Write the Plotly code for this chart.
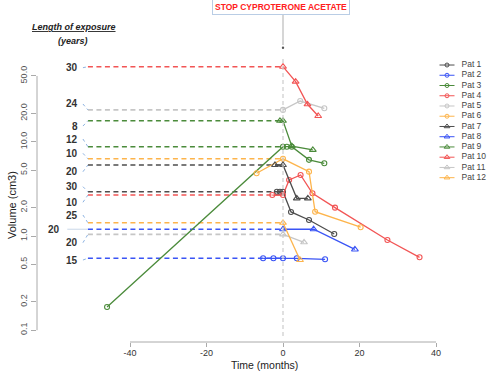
import math
import plotly.graph_objects as go

# ---------------- data ----------------
patients = ["Pat 1", "Pat 2", "Pat 3", "Pat 4", "Pat 5", "Pat 6",
            "Pat 7", "Pat 8", "Pat 9", "Pat 10", "Pat 11", "Pat 12"]

pat1_t = [-1.6, -0.8, 0, 2.1, 6.8, 13.4]
pat1_v = [2.95, 2.95, 2.95, 1.8, 1.48, 1.05]
pat2_t = [-5.2, -2.5, 0, 3.6, 11.0]
pat2_v = [0.58, 0.58, 0.58, 0.58, 0.566]
pat3_t = [-46.0, 0, 1.0, 2.3, 6.8, 10.8]
pat3_v = [0.176, 8.87, 8.87, 8.87, 6.43, 5.91]
pat4_t = [-2.8, 0, 1.6, 4.6, 7.7, 13.6, 27.3, 35.7]
pat4_v = [2.72, 2.72, 3.93, 4.44, 2.84, 2.0, 0.907, 0.594]
pat5_t = [0, 4.5, 10.8]
pat5_v = [21.8, 27.1, 22.7]
pat6_t = [-6.9, 0, 6.8, 8.4, 20.3]
pat6_v = [4.63, 6.6, 4.82, 1.81, 1.24]
pat7_t = [-2.1, 0, 3.6, 6.5]
pat7_v = [5.67, 5.67, 2.51, 2.51]
pat8_t = [0, 8.0, 18.8]
pat8_v = [1.18, 1.18, 0.72]
pat9_t = [-0.8, 0, 2.3, 7.8]
pat9_v = [16.7, 16.7, 9.0, 8.2]
pat10_t = [0, 3.3, 6.4, 9.2]
pat10_v = [62.7, 43.5, 25.0, 18.8]
pat11_t = [0, 5.5]
pat11_v = [1.04, 0.857]
pat12_t = [0, 4.45]
pat12_v = [1.38, 0.556]

times = [pat1_t, pat2_t, pat3_t, pat4_t, pat5_t, pat6_t,
         pat7_t, pat8_t, pat9_t, pat10_t, pat11_t, pat12_t]
values = [pat1_v, pat2_v, pat3_v, pat4_v, pat5_v, pat6_v,
          pat7_v, pat8_v, pat9_v, pat10_v, pat11_v, pat12_v]

# length of exposure (years) per patient
exposure_years = ["30", "15", "12", "10", "24", "10", "20", "20", "8", "30", "20", "25"]

y_tickvals = [0.1, 0.2, 0.5, 1, 2, 5, 10, 20, 50]
y_ticktext = ["0.1", "0.2", "0.5", "1.0", "2.0", "5.0", "10.0", "20.0", "50.0"]
x_tickvals = [-40, -20, 0, 20, 40]
x_ticktext = ["-40", "-20", "0", "20", "40"]

# ---------------- styles / layout ----------------
colors = ["#4d4d4d", "#3a54f5", "#4b8b3b", "#f25555", "#c6c6c6", "#fdb44b"] * 2
symbols = ["circle-open"] * 6 + ["triangle-up-open"] * 6
msizes = [5] * 6 + [6] * 6

# display positions of the exposure labels (volume units, label offsets)
label_pos = [3.34, 0.556, 10.7, 2.28, 25.2, 7.55, 4.81, 1.18, 14.7, 61.2, 0.849, 1.67]
label_right = [-53.1] * 12
label_right[7] = -57.8

W, H = 500, 371
ML, MR, MT, MB = 37, 0, 40, 29
PW, PH = W - ML - MR, H - MT - MB
X0PX, PXM = 283.0, 3.825        # pixel of t=0, pixels per month
Y1PX, PXD = 236.0, 94.2          # pixel of v=1, pixels per decade
xr = [(ML - X0PX) / PXM, (W - MR - X0PX) / PXM]
yr = [(Y1PX - (H - MB)) / PXD, (Y1PX - MT) / PXD]
DASH_START = -51.0
FONT = "Arial, Liberation Sans, sans-serif"


def px_x(px):
    return (px - ML) / PW


def px_y(py):
    return (H - MB - py) / PH


def val_paper_y(v):
    return (math.log10(v) - yr[0]) / (yr[1] - yr[0])


fig = go.Figure()

# dashed baseline lines and label connectors
for i in range(12):
    v0 = values[i][times[i].index(0)]
    fig.add_trace(go.Scatter(
        x=[DASH_START, 0], y=[v0, v0], mode="lines",
        line=dict(color=colors[i], width=1.6, dash="5px,3.5px"),
        showlegend=False, hoverinfo="skip"))
    if i == 7:
        fig.add_trace(go.Scatter(
            x=[label_right[i] + 1.4, DASH_START], y=[label_pos[i], v0], mode="lines",
            line=dict(color="#c9d7e8", width=1),
            showlegend=False, hoverinfo="skip"))
    else:
        fig.add_trace(go.Scatter(
            x=[label_right[i] + 0.8, DASH_START], y=[label_pos[i], v0], mode="lines",
            line=dict(color="#8db3e2", width=1, dash="dot"),
            showlegend=False, hoverinfo="skip"))

# patient series
for i in range(12):
    fig.add_trace(go.Scatter(
        x=times[i], y=values[i], mode="lines+markers", name=patients[i],
        line=dict(color=colors[i], width=1.3),
        marker=dict(symbol=symbols[i], size=msizes[i], color=colors[i],
                    line=dict(color=colors[i], width=1.1)),
        showlegend=False, hoverinfo="skip"))

# manual legend (own axes)
for i in range(12):
    fig.add_trace(go.Scatter(
        x=[1.5, 16.5], y=[i, i], mode="lines", xaxis="x2", yaxis="y2",
        line=dict(color=colors[i], width=1), showlegend=False, hoverinfo="skip"))
    fig.add_trace(go.Scatter(
        x=[9], y=[i], mode="markers", xaxis="x2", yaxis="y2",
        marker=dict(symbol=symbols[i], size=msizes[i] - 1, color=colors[i],
                    line=dict(color=colors[i], width=1)),
        showlegend=False, hoverinfo="skip"))
    fig.add_trace(go.Scatter(
        x=[23.5], y=[i], mode="text", text=[patients[i]], xaxis="x2", yaxis="y2",
        textposition="middle right",
        textfont=dict(family=FONT, size=8.5, color="#444444"),
        showlegend=False, hoverinfo="skip"))

annotations = []
for i in range(12):
    annotations.append(dict(
        x=label_right[i], y=math.log10(label_pos[i]), xref="x", yref="y",
        text="<b>%s</b>" % exposure_years[i], showarrow=False, xanchor="right",
        yanchor="middle",
        font=dict(family=FONT, size=10, color="#333333")))

annotations += [
    dict(x=px_x(280.5), y=px_y(6.5), xref="paper", yref="paper",
         xanchor="center", yanchor="middle",
         text="<b>STOP CYPROTERONE ACETATE</b>", showarrow=False,
         font=dict(family=FONT, size=8.5, color="#ff2020"),
         bordercolor="#b9cde5", borderwidth=1, borderpad=2, bgcolor="white"),
    dict(x=px_x(74), y=px_y(27), xref="paper", yref="paper",
         xanchor="center", yanchor="middle",
         text="<b><i><u>Length of exposure</u></i></b>", showarrow=False,
         font=dict(family=FONT, size=9, color="#222222")),
    dict(x=px_x(73), y=px_y(41.5), xref="paper", yref="paper",
         xanchor="center", yanchor="middle",
         text="<b><i>(years)</i></b>", showarrow=False,
         font=dict(family=FONT, size=9, color="#222222")),
    dict(x=px_x(264), y=px_y(365), xref="paper", yref="paper",
         xanchor="center", yanchor="middle",
         text="Time (months)", showarrow=False,
         font=dict(family=FONT, size=10.5, color="#222222")),
    dict(x=px_x(12), y=px_y(205), xref="paper", yref="paper",
         xanchor="center", yanchor="middle",
         text="Volume (cm3)", showarrow=False, textangle=-90,
         font=dict(family=FONT, size=11, color="#222222")),
]

AXC = "#aaaaaa"
shapes = [
    # y axis line (0.1 .. 50)
    dict(type="line", xref="paper", yref="paper", x0=0, x1=0,
         y0=val_paper_y(y_tickvals[0]), y1=val_paper_y(y_tickvals[-1]),
         line=dict(color=AXC, width=1)),
    # x axis line (-40 .. 40)
    dict(type="line", xref="x", yref="paper", x0=x_tickvals[0], x1=x_tickvals[-1],
         y0=0, y1=0, line=dict(color=AXC, width=1)),
    # t = 0 dashed vertical
    dict(type="line", xref="x", yref="paper", x0=0, x1=0, y0=px_y(336), y1=px_y(56),
         line=dict(color="#cccccc", width=1.2, dash="4px,3px")),
    # connector from the box
    dict(type="line", xref="x", yref="paper", x0=0, x1=0, y0=px_y(45), y1=px_y(13),
         line=dict(color="#c8c8c8", width=1.5)),
    dict(type="circle", xref="x", yref="paper", xsizemode="pixel", ysizemode="pixel",
         xanchor=0, yanchor=px_y(47.7), x0=-1.2, x1=1.2, y0=-1.2, y1=1.2,
         fillcolor="#555555", line=dict(width=0)),
]

fig.update_layout(
    width=W, height=H,
    margin=dict(l=ML, r=MR, t=MT, b=MB, autoexpand=False),
    paper_bgcolor="white", plot_bgcolor="white",
    showlegend=False, hovermode=False,
    font=dict(family=FONT, color="#333333"),
    xaxis=dict(range=xr, showgrid=False, zeroline=False, showline=False,
               automargin=False, ticklabelstandoff=-2,
               tickmode="array", tickvals=x_tickvals, ticktext=x_ticktext,
               ticks="outside", ticklen=4, tickcolor=AXC, tickwidth=1,
               tickfont=dict(size=9, color="#333333")),
    yaxis=dict(type="log", range=yr, showgrid=False, zeroline=False, showline=False,
               automargin=False,
               tickmode="array", tickvals=y_tickvals, ticktext=y_ticktext,
               ticks="outside", ticklen=5, tickcolor=AXC, tickwidth=1,
               tickangle=-90, tickfont=dict(size=9, color="#555555")),
    xaxis2=dict(domain=[px_x(438), 1.0], range=[0, 62], anchor="y2", visible=False),
    yaxis2=dict(domain=[px_y(182.8), px_y(59.9)], range=[11.5, -0.5], anchor="x2",
                visible=False),
    annotations=annotations,
    shapes=shapes,
)

fig.write_html(
    "out.html",
    config={"displayModeBar": False},
    post_script="document.body.style.margin='0px';document.body.style.padding='0px';",
)
